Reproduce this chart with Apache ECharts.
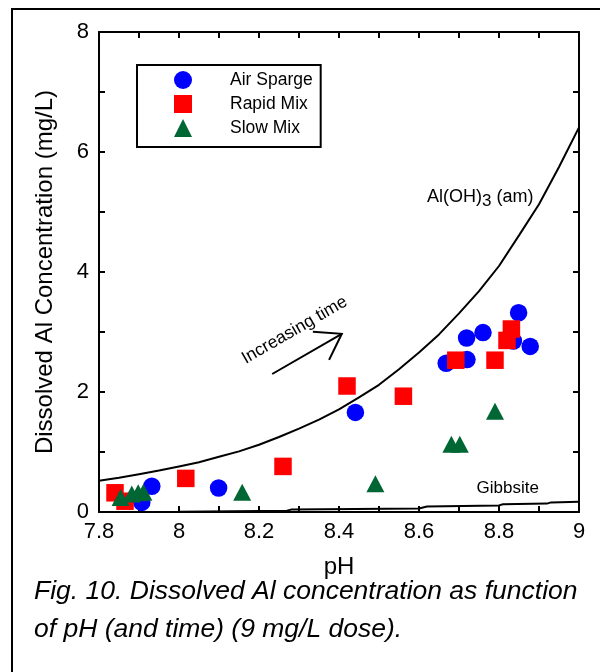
<!DOCTYPE html>
<html>
<head>
<meta charset="utf-8">
<script src="https://cdn.jsdelivr.net/npm/echarts@6/dist/echarts.min.js"></script>
<style>
  html, body { margin: 0; padding: 0; background: #fff; }
  #chart { width: 600px; height: 672px; }
</style>
</head>
<body>
<div id="chart"></div>
<script>
// Dissolved Al measurements: [pH, Al (mg/L)]
const airSparge = [
  [7.907, 0.16], [7.932, 0.43], [8.099, 0.40], [8.441, 1.66],
  [8.668, 2.48], [8.720, 2.54], [8.719, 2.90], [8.760, 2.99],
  [8.849, 3.32], [8.836, 2.85], [8.878, 2.76]
];
const rapidMix = [
  [7.840, 0.32], [7.865, 0.18], [8.017, 0.56], [8.260, 0.76],
  [8.420, 2.10], [8.561, 1.93], [8.692, 2.53], [8.790, 2.53],
  [8.820, 2.86], [8.831, 3.05]
];
const slowMix = [
  [7.798, 0.31], [7.854, 0.24], [7.882, 0.30], [7.898, 0.32],
  [7.911, 0.33], [8.158, 0.33], [8.491, 0.47], [8.681, 1.13],
  [8.702, 1.13], [8.790, 1.68]
];

// Solubility curves: [pH, Al (mg/L)]
const amorphousCurve = [
  [7.80, 0.52], [7.85, 0.57], [7.90, 0.63], [7.95, 0.69], [8.00, 0.76],
  [8.05, 0.83], [8.10, 0.92], [8.15, 1.01], [8.20, 1.12], [8.25, 1.25],
  [8.30, 1.39], [8.35, 1.54], [8.40, 1.71], [8.45, 1.91], [8.50, 2.12],
  [8.55, 2.38], [8.60, 2.66], [8.65, 2.96], [8.70, 3.31], [8.75, 3.68],
  [8.80, 4.10], [8.85, 4.61], [8.90, 5.13], [8.95, 5.75], [9.00, 6.41]
];
const gibbsiteCurve = [
  [7.80, 0.00], [8.00, 0.005], [8.27, 0.02], [8.28, 0.04], [8.60, 0.06],
  [8.62, 0.09], [8.80, 0.11], [8.81, 0.13], [8.92, 0.14], [8.93, 0.16],
  [9.00, 0.17]
];

// Axis ranges and tick steps
const phRange = [7.8, 9];
const phStep = 0.2;
const alRange = [0, 8];
const alStep = 2;

// Texts
const seriesNames = ['Air Sparge', 'Rapid Mix', 'Slow Mix'];
const xTitle = 'pH';
const yTitle = 'Dissolved Al Concentration (mg/L)';
const captionLines = [
  'Fig. 10. Dissolved Al concentration as function',
  'of pH (and time) (9 mg/L dose).'
];
const amorphousLabel = ['Al(OH)', '3', ' (am)'];
const gibbsiteLabel = 'Gibbsite';
const arrowLabel = 'Increasing time';

// Annotation anchors in data units [pH, Al]
const amorphousLabelAt = [8.62, 5.23];
const gibbsiteLabelAt = [8.744, 0.395];
const arrowLabelAt = [8.289, 3.03];
const arrowFrom = [8.233, 2.30];
const arrowTo = [8.407, 2.97];

const FONT = '"Liberation Sans", Arial, Helvetica, sans-serif';
const chart = echarts.init(document.getElementById('chart'), null, { renderer: 'canvas' });

function fmtTick(v) { return String(parseFloat(v.toFixed(2))); }

const tickStyle = { inside: true, length: 6, lineStyle: { color: '#000', width: 2 } };
const minorStyle = { show: true, splitNumber: 2, length: 6, lineStyle: { color: '#000', width: 2 } };
const axisLine = { show: true, onZero: false, lineStyle: { color: '#000', width: 2 } };

const option = {
  animation: false,
  backgroundColor: '#fff',
  grid: { left: 99, right: 21, top: 32, bottom: 160, containLabel: false },
  legend: {
    data: seriesNames,
    orient: 'vertical',
    left: 137, top: 65,
    padding: [6, 8, 10, 37],
    borderColor: '#000', borderWidth: 2,
    itemWidth: 18, itemHeight: 18, itemGap: 6,
    textStyle: { fontFamily: FONT, fontSize: 17.5, color: '#000', lineHeight: 18, padding: [0, 0, 0, 33] }
  },
  xAxis: [{
    type: 'value', min: phRange[0], max: phRange[1], interval: phStep,
    name: xTitle, nameLocation: 'middle', nameGap: 43,
    nameTextStyle: { fontFamily: FONT, fontSize: 24, color: '#000' },
    axisLine: axisLine, axisTick: tickStyle, minorTick: minorStyle,
    splitLine: { show: false },
    axisLabel: { fontFamily: FONT, fontSize: 22, color: '#000', margin: 9, formatter: fmtTick, showMinLabel: true, showMaxLabel: true }
  }, {
    type: 'value', position: 'top', min: phRange[0], max: phRange[1], interval: phStep,
    axisLine: axisLine, axisTick: tickStyle, minorTick: minorStyle,
    splitLine: { show: false }, axisLabel: { show: false }
  }],
  yAxis: [{
    type: 'value', min: alRange[0], max: alRange[1], interval: alStep,
    name: yTitle, nameLocation: 'middle', nameGap: 42,
    nameTextStyle: { fontFamily: FONT, fontSize: 24, color: '#000' },
    axisLine: axisLine, axisTick: tickStyle, minorTick: minorStyle,
    splitLine: { show: false },
    axisLabel: { fontFamily: FONT, fontSize: 22, color: '#000', margin: 10, formatter: fmtTick }
  }, {
    type: 'value', position: 'right', min: alRange[0], max: alRange[1], interval: alStep,
    axisLine: axisLine, axisTick: tickStyle, minorTick: minorStyle,
    splitLine: { show: false }, axisLabel: { show: false }
  }],
  series: [
    {
      name: seriesNames[0], type: 'scatter', data: airSparge, z: 3,
      symbol: 'circle', symbolSize: 17.5,
      itemStyle: { color: '#0000ff', opacity: 1 }
    },
    {
      name: seriesNames[1], type: 'scatter', data: rapidMix, z: 4,
      symbol: 'rect', symbolSize: 17.5,
      itemStyle: { color: '#ff0000', opacity: 1 }
    },
    {
      name: seriesNames[2], type: 'scatter', data: slowMix, z: 5,
      symbol: 'triangle', symbolSize: [18, 17],
      itemStyle: { color: '#006633', opacity: 1 }
    },
    {
      name: 'Al(OH)3 (am)', type: 'line', data: amorphousCurve, z: 6,
      showSymbol: false, symbol: 'none', silent: true,
      lineStyle: { color: '#000', width: 2 }
    },
    {
      name: 'Gibbsite', type: 'line', data: gibbsiteCurve, z: 6,
      showSymbol: false, symbol: 'none', silent: true, clip: false,
      lineStyle: { color: '#000', width: 2 }
    }
  ]
};

chart.setOption(option);

// Annotations anchored to data coordinates
const toPx = p => chart.convertToPixel({ xAxisIndex: 0, yAxisIndex: 0 }, p);
const head = toPx(arrowTo);
const tail = toPx(arrowFrom);
const ang = Math.atan2(head[1] - tail[1], head[0] - tail[0]);
const barbLen = 29;
const spread = 34 * Math.PI / 180;
const barbA = [head[0] - barbLen * Math.cos(ang - spread), head[1] - barbLen * Math.sin(ang - spread)];
const barbB = [head[0] - barbLen * Math.cos(ang + spread), head[1] - barbLen * Math.sin(ang + spread)];

const amPos = toPx(amorphousLabelAt);
const gbPos = toPx(gibbsiteLabelAt);
const arPos = toPx(arrowLabelAt);

chart.setOption({
  graphic: [
    {
      type: 'rect', silent: true, z: -1,
      shape: { x: 12, y: 9, width: 700, height: 700 },
      style: { fill: 'none', stroke: '#000', lineWidth: 2 }
    },
    {
      type: 'text', silent: true, left: 34, top: 573,
      style: {
        text: captionLines.join('\n'),
        font: 'italic 26.5px ' + FONT, fill: '#000', lineHeight: 38
      }
    },
    {
      type: 'text', silent: true, x: amPos[0], y: amPos[1],
      style: {
        text: '{a|' + amorphousLabel[0] + '}{s|' + amorphousLabel[1] + '}{a|' + amorphousLabel[2] + '}',
        align: 'left', verticalAlign: 'middle', fill: '#000',
        rich: {
          a: { fontFamily: FONT, fontSize: 18, lineHeight: 20, verticalAlign: 'top', fill: '#000' },
          s: { fontFamily: FONT, fontSize: 17, lineHeight: 20, verticalAlign: 'top', padding: [5, 0, 0, 0], fill: '#000' }
        }
      }
    },
    {
      type: 'text', silent: true, x: gbPos[0], y: gbPos[1],
      style: { text: gibbsiteLabel, font: '17px ' + FONT, fill: '#000', align: 'left', verticalAlign: 'middle' }
    },
    {
      type: 'text', silent: true, x: arPos[0], y: arPos[1], rotation: 30 * Math.PI / 180,
      style: { text: arrowLabel, font: '17.5px ' + FONT, fill: '#000', align: 'center', verticalAlign: 'middle' }
    },
    {
      type: 'line', silent: true,
      shape: { x1: tail[0], y1: tail[1], x2: head[0], y2: head[1] },
      style: { stroke: '#000', lineWidth: 2 }
    },
    {
      type: 'polyline', silent: true,
      shape: { points: [barbA, head, barbB] },
      style: { stroke: '#000', lineWidth: 2, fill: 'none' }
    }
  ]
});
</script>
</body>
</html>
